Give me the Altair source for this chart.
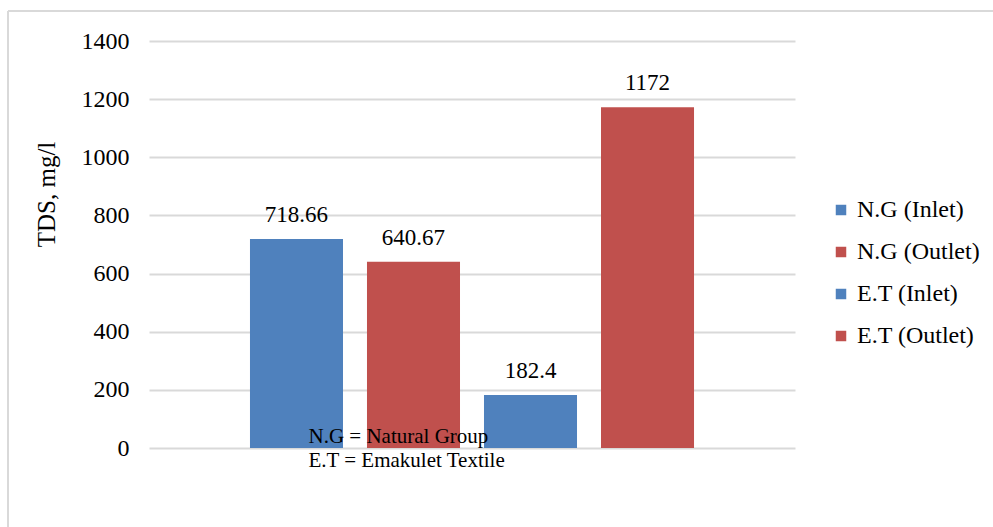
import altair as alt
import pandas as pd

# TDS readings for the two sites, inlet and outlet
series = ["N.G (Inlet)", "N.G (Outlet)", "E.T (Inlet)", "E.T (Outlet)"]
tds_values = [718.66, 640.67, 182.4, 1172]
series_colors = ["#4F81BD", "#C0504D", "#4F81BD", "#C0504D"]
y_ticks = [0, 200, 400, 600, 800, 1000, 1200, 1400]
footnotes = ["N.G = Natural Group", "E.T = Emakulet Textile"]

FONT = "'Liberation Serif', 'Times New Roman', serif"
PLOT_W, PLOT_H = 646, 407
PAD_L, PAD_T = 149, 41
TOTAL_W, TOTAL_H = 993, 527

df = pd.DataFrame({"series": series, "tds": tds_values})

x_enc = alt.X(
    "series:N",
    sort=series,
    scale=alt.Scale(domain=series, paddingInner=0.205, paddingOuter=0.863),
    axis=None,
)
y_scale = alt.Scale(domain=[0, 1400], nice=False)

bars = alt.Chart(df).mark_bar().encode(
    x=x_enc,
    y=alt.Y(
        "tds:Q",
        scale=y_scale,
        axis=alt.Axis(
            values=y_ticks,
            format="d",
            title="TDS, mg/l",
            titleFont=FONT,
            titleFontSize=25,
            titleFontWeight="normal",
            titleColor="#000000",
            titleAngle=-90,
            titleAlign="center",
            titleBaseline="middle",
            titleX=-103,
            titleY=153,
            labelFont=FONT,
            labelFontSize=24,
            labelColor="#000000",
            labelPadding=20,
            domain=False,
            ticks=False,
            grid=True,
            gridColor="#d9d9d9",
            gridWidth=2,
        ),
    ),
    color=alt.Color(
        "series:N",
        sort=series,
        scale=alt.Scale(domain=series, range=series_colors),
        legend=alt.Legend(
            title=None,
            orient="none",
            legendX=680,
            legendY=157,
            symbolType="square",
            symbolSize=110,
            symbolStrokeWidth=0,
            labelFont=FONT,
            labelFontSize=24,
            labelColor="#000000",
            labelOffset=4,
            rowPadding=18,
        ),
    ),
)

value_labels = alt.Chart(df).transform_calculate(
    label="toString(datum.tds)"
).mark_text(
    font=FONT, fontSize=23, color="#000000", baseline="alphabetic", dy=-17
).encode(
    x=x_enc,
    y=alt.Y("tds:Q", scale=y_scale),
    text="label:N",
)

notes_df = pd.DataFrame({"note": footnotes, "line": [0, 1]})


def note_line(idx, y_px):
    return alt.Chart(notes_df).transform_filter(
        f"datum.line == {idx}"
    ).mark_text(
        font=FONT, fontSize=21, color="#000000", align="left", baseline="alphabetic"
    ).encode(x=alt.value(159.5), y=alt.value(y_px), text="note:N")


notes1 = note_line(0, 402)
notes2 = note_line(1, 426)

# light frame around the figure (top and left edges)
frame_src = alt.Chart(notes_df).transform_filter("datum.line == 0")
frame_top = frame_src.mark_rule(color="#d9d9d9", strokeWidth=2).encode(
    x=alt.value(-141), x2=alt.value(TOTAL_W - PAD_L + 10), y=alt.value(-30)
)
frame_left = frame_src.mark_rule(color="#d9d9d9", strokeWidth=2).encode(
    x=alt.value(-141), y=alt.value(-30), y2=alt.value(TOTAL_H - PAD_T + 10)
)

chart = alt.layer(
    frame_top, frame_left, bars, value_labels, notes1, notes2
).properties(
    width=PLOT_W,
    height=PLOT_H,
    padding={"left": PAD_L, "top": PAD_T,
             "right": TOTAL_W - PAD_L - PLOT_W, "bottom": TOTAL_H - PAD_T - PLOT_H},
    autosize=alt.AutoSizeParams(type="none"),
    background="#ffffff",
).configure_view(stroke=None)

chart.save("out.html", embed_options={"renderer": "svg", "actions": False})
